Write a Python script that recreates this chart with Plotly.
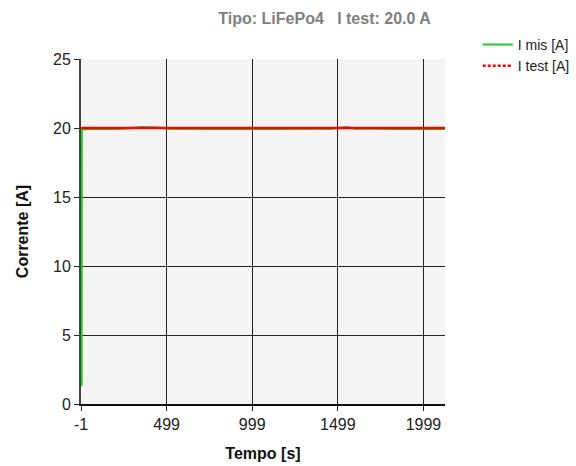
import plotly.graph_objects as go

# Data
t_mis = [3, 4, 50, 100, 150, 200, 250, 300, 350, 400, 450, 500, 550, 600, 650, 700,
         750, 800, 850, 900, 950, 1000, 1050, 1100, 1150, 1200, 1250, 1300, 1350,
         1400, 1450, 1500, 1550, 1600, 1650, 1700, 1750, 1800, 1850, 1900, 1950,
         2000, 2050, 2100, 2125]
i_mis = [1.3, 19.9, 19.93, 19.92, 19.94, 19.93, 19.95, 20.0, 20.08, 20.06, 20.03,
         19.94, 19.93, 19.92, 19.94, 19.93, 19.92, 19.94, 19.93, 19.93, 19.92,
         19.94, 19.93, 19.92, 19.93, 19.94, 19.93, 19.92, 19.93, 19.94, 19.93,
         20.0, 20.08, 19.95, 19.93, 19.92, 19.94, 19.93, 19.92, 19.93, 19.94,
         19.93, 19.92, 19.93, 19.94]
t_test = [-1, 2125]
i_test = [20.0, 20.0]

x_ticks = [-1, 499, 999, 1499, 1999]
y_ticks = [0, 5, 10, 15, 20, 25]

FONT = "Liberation Sans, Arial, sans-serif"

fig = go.Figure()
fig.add_trace(go.Scatter(x=t_mis, y=i_mis, mode="lines", name="I mis [A]",
                         line=dict(color="#22cc22", width=2)))
fig.add_trace(go.Scatter(x=t_test, y=i_test, mode="lines", name="I test [A]",
                         showlegend=False,
                         line=dict(color="#ff0000", width=2.5)))
fig.add_trace(go.Scatter(x=[None], y=[None], mode="lines", name="I test [A]",
                         line=dict(color="#ff0000", width=2.5, dash="3px,2px")))

fig.update_layout(
    width=576, height=466,
    margin=dict(l=81, r=131, t=59, b=62, autoexpand=False),
    paper_bgcolor="white",
    plot_bgcolor="#f4f4f4",
    font=dict(family=FONT, size=16, color="#222"),
    title=dict(text="<b>Tipo: LiFePo4&nbsp;&nbsp;&nbsp;I test: 20.0 A</b>", x=0.5635, xanchor="center",
               y=1 - 18 / 466, yanchor="middle",
               font=dict(family=FONT, size=16, color="#7f7f7f")),
    legend=dict(x=1.09, y=1.087, xanchor="left", yanchor="top",
                bgcolor="rgba(0,0,0,0)", font=dict(family=FONT, size=14, color="#222"),
                tracegroupgap=0, itemwidth=30),
    showlegend=True,
)
fig.update_xaxes(range=[-1, 2125], tickvals=x_ticks, ticktext=[str(v) for v in x_ticks],
                 showgrid=True, gridcolor="#222", gridwidth=1.4,
                 showline=True, linecolor="#111", linewidth=2,
                 ticks="outside", ticklen=5, tickcolor="#222", zeroline=False,
                 automargin=False, layer="below traces",
                 title=dict(text="<b>Tempo [s]</b>", font=dict(size=16, color="#111"), standoff=16))
fig.update_yaxes(range=[0, 25], tickvals=y_ticks,
                 showgrid=True, gridcolor="#222", gridwidth=1.4,
                 showline=True, linecolor="#444", linewidth=2,
                 ticks="outside", ticklen=5, tickcolor="#222", zeroline=False,
                 automargin=False, layer="below traces",
                 title=dict(text="<b>Corrente [A]</b>", font=dict(size=16, color="#111"), standoff=20))

fig.write_html("out.html", config={"displayModeBar": False},
               post_script="document.body.style.margin='0';document.body.style.overflow='hidden';")
